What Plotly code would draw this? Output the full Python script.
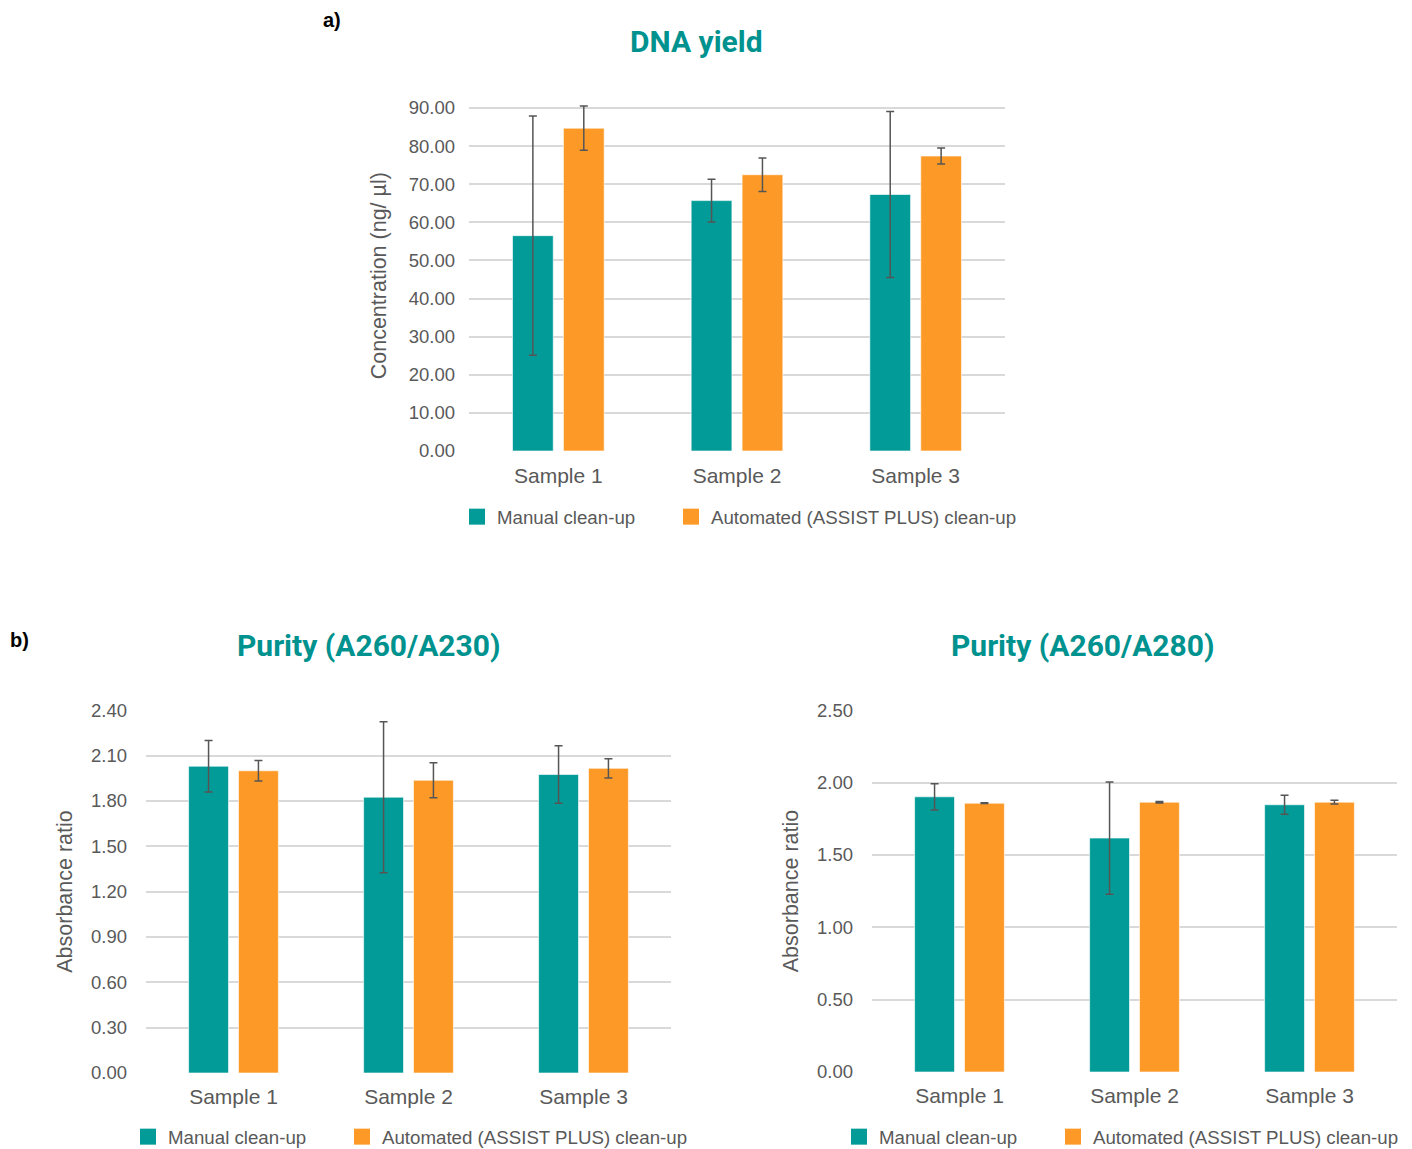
import plotly.graph_objects as go

W, H = 1412, 1149

samples = ["Sample 1", "Sample 2", "Sample 3"]
series_names = ["Manual clean-up", "Automated (ASSIST PLUS) clean-up"]

# a) DNA yield (ng/µl)
yield_manual = [56.5, 65.7, 67.3]
yield_manual_err = [31.4, 5.6, 21.8]
yield_auto = [84.7, 72.5, 77.4]
yield_auto_err = [5.8, 4.4, 2.1]

# b) Purity A260/A230
p230_manual = [2.03, 1.825, 1.975]
p230_manual_err = [0.17, 0.50, 0.19]
p230_auto = [2.00, 1.937, 2.016]
p230_auto_err = [0.068, 0.116, 0.064]

# b) Purity A260/A280
p280_manual = [1.902, 1.617, 1.847]
p280_manual_err = [0.091, 0.388, 0.065]
p280_auto = [1.858, 1.865, 1.865]
p280_auto_err = [0.003, 0.005, 0.013]

TEAL = "#039B98"
ORANGE = "#FD9A27"
TITLE_TEAL = "#00928E"
GRID = "#D9D9D9"
TXT = "#595959"
ERR = "#555555"
FONT = "Liberation Sans, Arial, sans-serif"


def px_x(a, b):
    return [a / W, b / W]


def px_y(top, bottom):
    return [1 - bottom / H, 1 - top / H]


fig = go.Figure()

panels = [
    dict(xa="x", ya="y", legends=("legend", "legend2"),
         data=(yield_manual, yield_manual_err, yield_auto, yield_auto_err)),
    dict(xa="x2", ya="y2", legends=("legend3", "legend4"),
         data=(p230_manual, p230_manual_err, p230_auto, p230_auto_err)),
    dict(xa="x3", ya="y3", legends=("legend5", "legend6"),
         data=(p280_manual, p280_manual_err, p280_auto, p280_auto_err)),
]

for p in panels:
    m, me, a, ae = p["data"]
    for name, vals, errs, col in [(series_names[0], m, me, TEAL), (series_names[1], a, ae, ORANGE)]:
        fig.add_trace(go.Bar(
            x=samples, y=vals, name=name, xaxis=p["xa"], yaxis=p["ya"], showlegend=False,
            cliponaxis=False,
            marker=dict(color=col, line=dict(color="rgba(255,255,255,0.6)", width=1)),
            error_y=dict(type="data", array=errs, visible=True, color=ERR, thickness=1.5, width=4),
        ))
    # legend entries (square swatches)
    for name, col, lg in [(series_names[0], TEAL, p["legends"][0]), (series_names[1], ORANGE, p["legends"][1])]:
        fig.add_trace(go.Scatter(
            x=[None], y=[None], mode="markers", name=name, xaxis=p["xa"], yaxis=p["ya"],
            legend=lg, showlegend=True,
            marker=dict(symbol="square", size=16, color=col),
        ))

axis_common = dict(showline=False, zeroline=False, showgrid=True, gridcolor=GRID, gridwidth=1.5,
                   tickfont=dict(family=FONT, size=18.5, color=TXT), ticks="", fixedrange=True)
xaxis_common = dict(showline=False, showgrid=False, zeroline=False, ticks="",
                    tickfont=dict(family=FONT, size=21, color=TXT), fixedrange=True)
ytitle_font = dict(family=FONT, size=21.5, color=TXT)

top_px_per_unit = (451 - 108) / 90.0

fig.update_layout(
    width=W, height=H,
    margin=dict(l=0, r=0, t=0, b=0, autoexpand=False),
    paper_bgcolor="white", plot_bgcolor="white",
    barmode="group",
    bargap=0.43, bargroupgap=0.2,
    xaxis=dict(domain=px_x(469, 1005), anchor="y", ticklabelstandoff=10, **xaxis_common),
    yaxis=dict(domain=px_y(451 - 92 * top_px_per_unit, 451), anchor="x", range=[0, 92], tickvals=list(range(0, 91, 10)),
               tickformat=".2f",
               title=dict(text="Concentration (ng/ µl)", font=ytitle_font, standoff=16),
               ticklabelstandoff=13, **axis_common),
    xaxis2=dict(domain=px_x(146, 671), anchor="y2", ticklabelstandoff=9, **xaxis_common),
    yaxis2=dict(domain=px_y(710, 1073), anchor="x2", range=[0, 2.402], dtick=0.3, tickformat=".2f",
                title=dict(text="Absorbance ratio", font=ytitle_font, standoff=12),
                ticklabelstandoff=18, **axis_common),
    xaxis3=dict(domain=px_x(872, 1397), anchor="y3", ticklabelstandoff=9, **xaxis_common),
    yaxis3=dict(domain=px_y(710, 1072), anchor="x3", range=[0, 2.502], dtick=0.5, tickformat=".2f",
                title=dict(text="Absorbance ratio", font=ytitle_font, standoff=12),
                ticklabelstandoff=18, **axis_common),
)

leg_common = dict(orientation="h", xanchor="left", yanchor="middle",
                  font=dict(family=FONT, size=18.7, color=TXT), bgcolor="rgba(0,0,0,0)",
                  itemclick=False, itemdoubleclick=False)
legend_pos = {
    "legend": (470, 517), "legend2": (684, 517),
    "legend3": (141, 1137), "legend4": (355, 1137),
    "legend5": (852, 1137), "legend6": (1066, 1137),
}
fig.update_layout(**{k: dict(x=(sx - 13) / W, y=1 - sy / H, **leg_common) for k, (sx, sy) in legend_pos.items()})

TITLE_FONT = dict(family="Roboto, sans-serif", size=30, color=TITLE_TEAL, weight="bold")
annots = [
    dict(text="DNA yield", x=696 / W, y=1 - 42 / H),
    dict(text="Purity (A260/A230)", x=369 / W, y=1 - 645 / H),
    dict(text="Purity (A260/A280)", x=1083 / W, y=1 - 645 / H),
]
for a in annots:
    fig.add_annotation(text=a["text"], x=a["x"], y=a["y"], xref="paper", yref="paper",
                       xanchor="center", yanchor="middle", showarrow=False, font=TITLE_FONT)

for t, x, y in [("a)", 332, 20), ("b)", 19, 640)]:
    fig.add_annotation(text=t, x=x / W, y=1 - y / H, xref="paper", yref="paper",
                       xanchor="center", yanchor="middle", showarrow=False,
                       font=dict(family=FONT, size=20, color="black", weight="bold"))

fig.write_html("out.html")
